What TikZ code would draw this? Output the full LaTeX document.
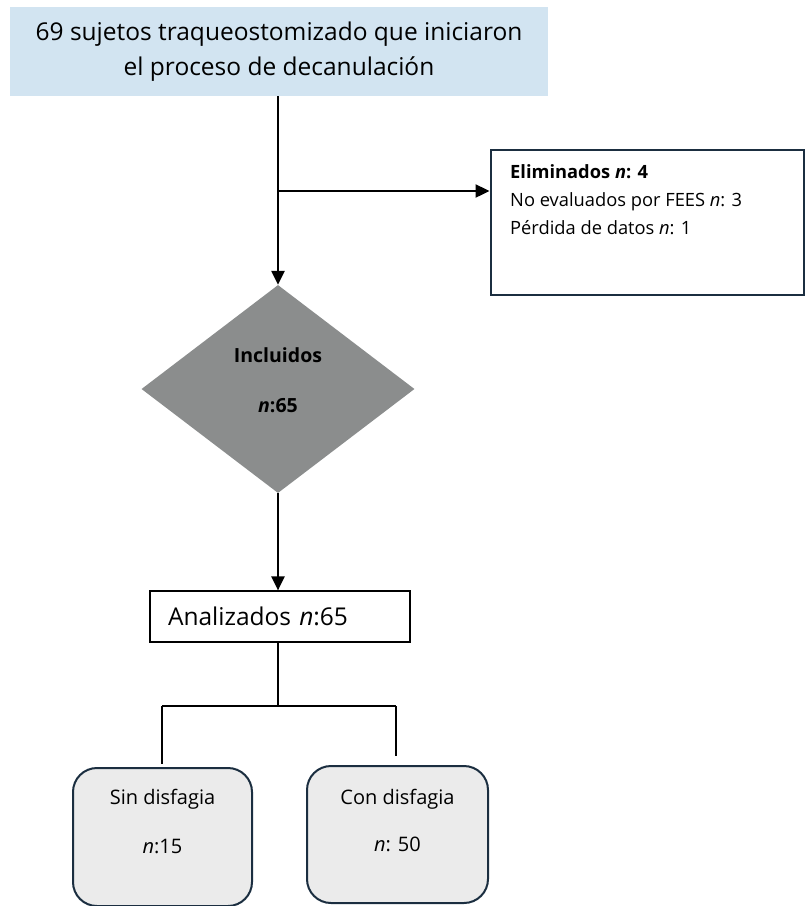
\documentclass[tikz,border=0pt]{standalone}
\usepackage{fontspec}
\setmainfont{Open Sans}
\usetikzlibrary{shapes.geometric,arrows.meta}
\definecolor{topblue}{HTML}{D2E4F1}
\definecolor{diagray}{HTML}{8B8D8D}
\definecolor{navy}{HTML}{1B2E40}
\definecolor{lightgray}{HTML}{EBEBEB}
\tikzset{
  mainarrow/.style={line width=2.4pt,-{Triangle[length=14pt,width=13pt]}},
  thinline/.style={line width=1.2pt},
  outbox/.style={draw=navy,line width=2pt,minimum width=313pt,minimum height=145pt},
  roundbox/.style={draw=navy,line width=2pt,fill=lightgray,rounded corners=24pt},
  bigtext/.style={font=\fontsize{24.5}{35}\selectfont},
  elimtext/.style={font=\fontsize{18.3}{28}\selectfont},
  boxtext/.style={font=\fontsize{20}{24}\selectfont},
}
\begin{document}
\begin{tikzpicture}[x=1pt,y=-1pt]
\useasboundingbox (0,0) rectangle (805,906);
% top box
\node[fill=topblue,minimum width=538pt,minimum height=89pt,inner sep=0pt,align=center,bigtext]
  (top) at (279,51.5) {69 sujetos traqueostomizado que iniciaron\\el proceso de decanulación};
% excluded box
\node[outbox] (elim) at (647,222.5) {};
\node[anchor=north west,align=left,elimtext,inner sep=0pt] (elimtxt) at (510,164.5)
  {\textbf{Eliminados \textit{n}: 4}\\No evaluados por FEES \textit{n}: 3\\Pérdida de datos \textit{n}: 1};
% diamond
\node[diamond,fill=diagray,minimum width=273pt,minimum height=208pt,inner sep=0pt] (diam) at (278,389) {};
\node[align=center,font=\fontsize{19.5}{50}\selectfont\bfseries,inner sep=0pt] (diamtxt) at (278,380)
  {Incluidos\\\textit{n}:65};
% analizados
\node[draw=black,line width=1.2pt,minimum width=260pt,minimum height=51pt,text width=224pt,inner xsep=18pt,align=left,bigtext] (anal) at (280,616.5)
  {Analizados \textit{n}:65};
% bottom boxes
\node[roundbox,minimum width=179pt,minimum height=138pt] (sin) at (162.5,837) {};
\node[align=center,boxtext,anchor=north,inner sep=0pt] (sintxt) at (162.5,789)
  {Sin disfagia\\[25pt]\textit{n}:15};
\node[roundbox,minimum width=181pt,minimum height=137pt] (con) at (397.5,834.5) {};
\node[align=center,boxtext,anchor=north,inner sep=0pt] (contxt) at (397.5,788.5)
  {Con disfagia\\[23pt]\textit{n}: 50};
% connectors
\coordinate (br) at (278,191);
\draw[line width=2.4pt] (top.south -| diam.north) -- (br);
\draw[mainarrow] (br) -- (diam.north);
\draw[mainarrow] (br) -- (br -| elim.west);
\draw[mainarrow] (diam.south) -- (anal.north -| diam.south);
\coordinate (split) at (278,706);
\coordinate (sl) at (162,706);
\coordinate (sr) at (396,706);
\draw[thinline] (anal.south -| split) -- (split);
\draw[thinline] (sl) -- (sr);
\draw[thinline] (sl) -- ([yshift=3pt]sin.north -| sl);
\draw[thinline] (sr) -- ([yshift=9pt]con.north -| sr);
\end{tikzpicture}
\end{document}
